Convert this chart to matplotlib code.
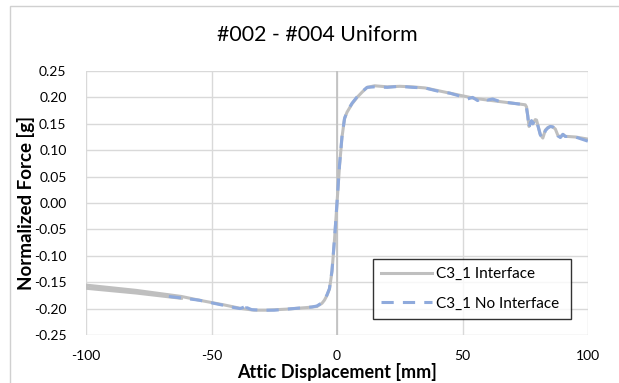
import matplotlib
matplotlib.use("Agg")
import matplotlib.pyplot as plt
from matplotlib.patches import Rectangle

# ---- data ----
title = "#002 - #004 Uniform"
xlabel = "Attic Displacement [mm]"
ylabel = "Normalized Force [g]"
series_names = ["C3_1 Interface", "C3_1 No Interface"]

x_interface = [-62, -80, -100, -100, -80, -62, -55, -45, -38, -33, -28, -20, -12, -8, -6, -5,
               -4, -3, -2, -1, 0, 1, 2, 3, 4, 6, 8, 10, 12, 15, 20, 25, 30, 35, 40, 45, 50,
               55, 60, 65, 70, 75, 75.5, 76, 76.5, 77, 77.5, 78, 79, 79.5, 80, 81, 82, 83,
               84, 85, 86, 87, 88, 89, 90, 91, 92, 95, 100]
y_interface = [-0.1805, -0.1705, -0.1615, -0.1555, -0.1655, -0.1770, -0.184, -0.193, -0.200, -0.203,
               -0.203, -0.201, -0.198, -0.196, -0.190, -0.184, -0.175, -0.163, -0.130,
               -0.070, 0.000, 0.070, 0.125, 0.160, 0.172, 0.188, 0.200, 0.210, 0.219,
               0.222, 0.220, 0.221, 0.220, 0.218, 0.213, 0.208, 0.203, 0.198, 0.195,
               0.192, 0.189, 0.186, 0.182, 0.165, 0.145, 0.152, 0.155, 0.150, 0.158,
               0.157, 0.148, 0.130, 0.123, 0.138, 0.143, 0.145, 0.144, 0.140, 0.128,
               0.125, 0.130, 0.126, 0.126, 0.125, 0.121]

x_no_interface = [-67, -60, -55, -50, -45, -41, -38.6, -37, -35.4, -36, -34, -30, -25, -20,
                  -15, -10, -8, -6, -5, -4, -3, -2, -1, 0, 1, 2, 3, 4, 6, 8, 10, 12, 15,
                  20, 25, 30, 35, 40, 45, 50, 52, 54, 56, 58, 60, 62, 65, 70, 75, 75.5, 76,
                  76.5, 77, 77.5, 78, 79, 79.5, 80, 81, 82, 83, 84, 85, 86, 87, 88, 89, 90,
                  91, 92, 95, 100]
y_no_interface = [-0.177, -0.181, -0.184, -0.189, -0.194, -0.198, -0.200, -0.197, -0.190,
                  -0.198, -0.202, -0.203, -0.203, -0.201, -0.199, -0.197, -0.195, -0.189,
                  -0.183, -0.174, -0.162, -0.128, -0.068, 0.000, 0.072, 0.127, 0.160,
                  0.173, 0.189, 0.201, 0.211, 0.219, 0.220, 0.219, 0.221, 0.219, 0.218,
                  0.212, 0.208, 0.201, 0.197, 0.200, 0.194, 0.199, 0.195, 0.197, 0.192,
                  0.189, 0.186, 0.180, 0.165, 0.142, 0.152, 0.156, 0.150, 0.159, 0.156,
                  0.147, 0.129, 0.122, 0.137, 0.142, 0.145, 0.144, 0.139, 0.127, 0.124,
                  0.130, 0.126, 0.126, 0.125, 0.117]

x_ticks = [-100, -50, 0, 50, 100]
y_ticks = [0.25, 0.20, 0.15, 0.10, 0.05, 0.00, -0.05, -0.10, -0.15, -0.20, -0.25]

# ---- figure ----
plt.rcParams['font.family'] = ['Lato', 'DejaVu Sans']
fig = plt.figure(figsize=(6.19, 3.83), dpi=100)
fig.patches.append(Rectangle((10 / 619, -0.05), 1.2, (383 - 6) / 383 + 0.05,
                             transform=fig.transFigure, fill=False,
                             edgecolor='#D0D0D0', linewidth=1.0))

ax = fig.add_axes([86 / 619, (383 - 335) / 383, (588 - 86) / 619, (335 - 71) / 383])
ax.set_xlim(-100, 100)
ax.set_ylim(-0.25, 0.25)
ax.set_xticks(x_ticks)
ax.set_yticks(y_ticks)
ax.set_xticklabels([str(t) for t in x_ticks])
ax.set_yticklabels([f"{t:.2f}" for t in y_ticks])
ax.grid(True, color='#D9D9D9', linewidth=1.0)
ax.set_axisbelow(True)
for s in ax.spines.values():
    s.set_visible(False)
ax.axvline(0, color='#BFBFBF', linewidth=1.2, zorder=1)
ax.tick_params(axis='both', length=0, labelsize=10, colors='#000000')
ax.tick_params(axis='x', pad=11)
ax.tick_params(axis='y', pad=14)

ax.plot(x_interface, y_interface, color='#BFBFBF', linewidth=2.2,
        solid_joinstyle='round', label=series_names[0], zorder=3)
ax.plot(x_no_interface, y_no_interface, color='#8FAADC', linewidth=2.2,
        linestyle=(0, (4, 3)), label=series_names[1], zorder=4)

fig.text(317 / 619, 1 - 35 / 383, title, fontsize=15.3, ha='center', va='center')
fig.text(337 / 619, 1 - 378 / 383, xlabel, fontsize=13, fontweight='bold',
         ha='center', va='baseline')
fig.text(26 / 619, 1 - 203 / 383, ylabel, fontsize=13.5, fontweight='bold',
         ha='center', va='center', rotation=90)

leg = ax.legend(loc='lower left', bbox_to_anchor=((373 - 86) / 502, (335 - 319) / 264,
                                                  (571 - 373) / 502, (319 - 251) / 264),
                mode='expand', fontsize=11, frameon=True, fancybox=False,
                edgecolor='#000000', handlelength=3.3, labelspacing=1.0,
                borderaxespad=0, handletextpad=0.3, borderpad=0.55)
leg.get_frame().set_linewidth(1.0)

fig.savefig("out.png", dpi=100)
